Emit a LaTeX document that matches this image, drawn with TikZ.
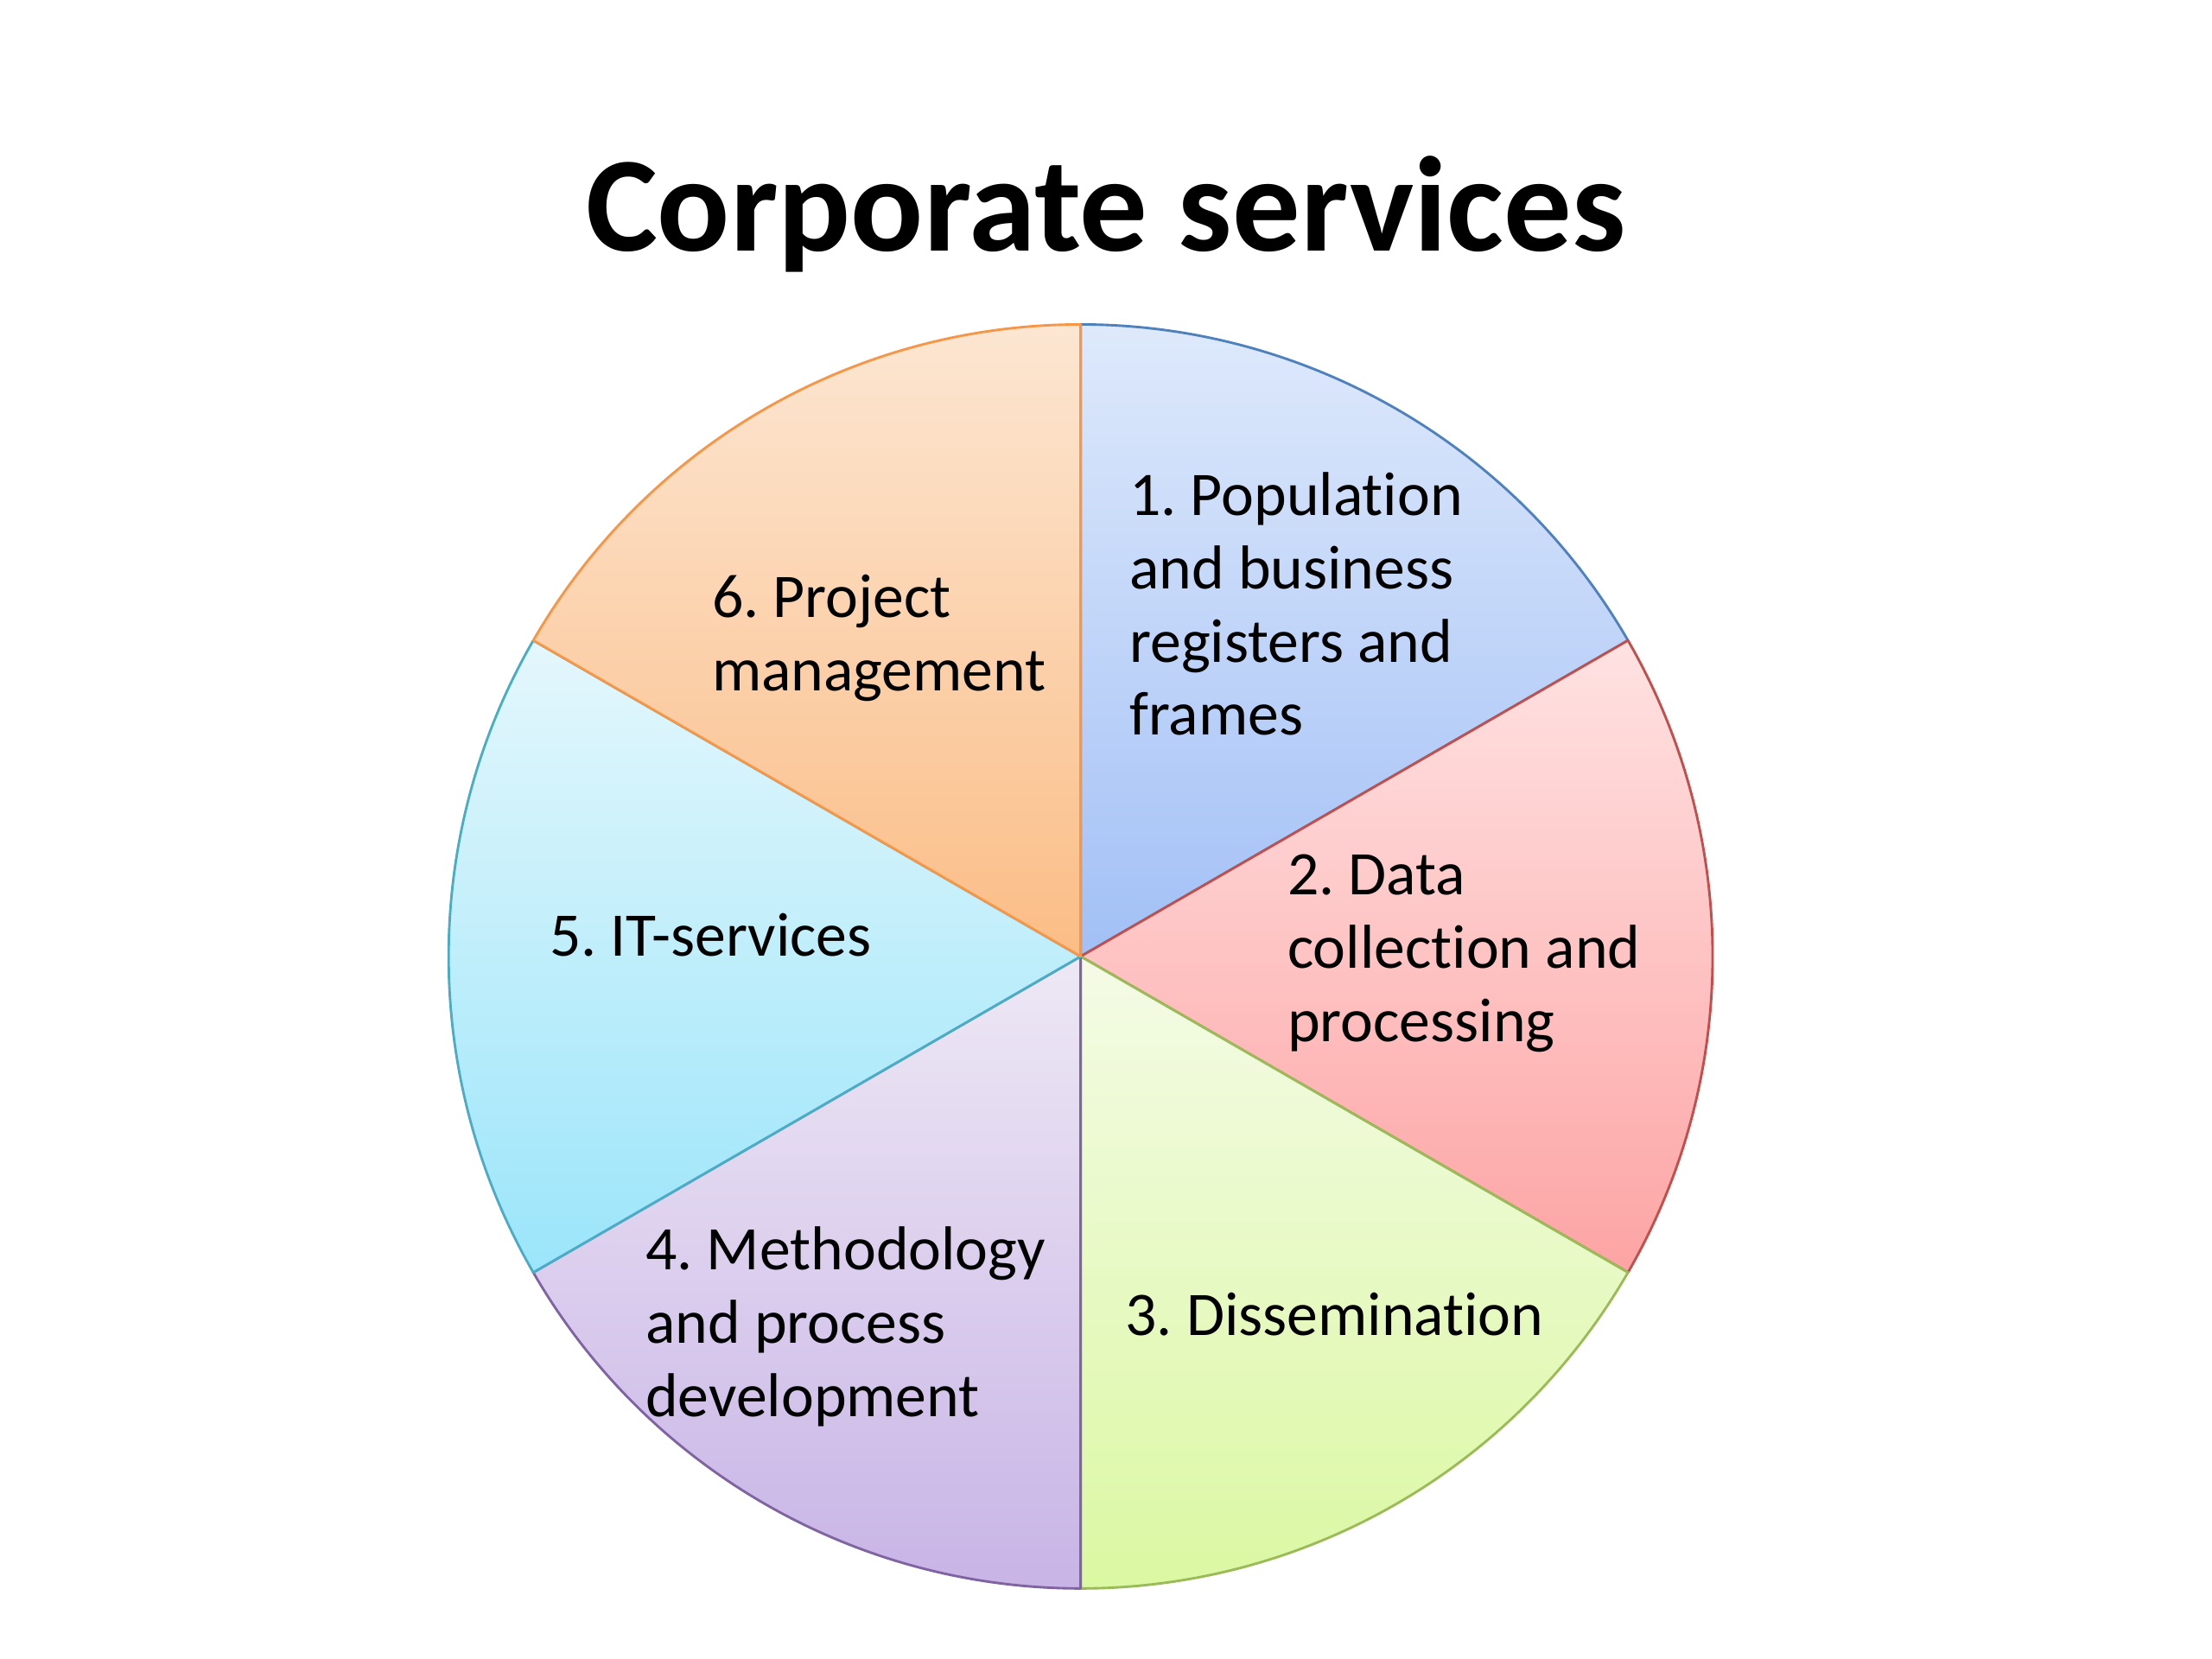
\documentclass[tikz,border=0pt]{standalone}
\usepackage{fontspec}
\setmainfont{Carlito}[Ligatures=NoCommon]
\frenchspacing
\usetikzlibrary{positioning}
\definecolor{csBlueTop}{HTML}{DEE9FB}
\definecolor{csBlueBot}{HTML}{A2C0F6}
\definecolor{csBlueLine}{HTML}{4F81BD}
\definecolor{csRedTop}{HTML}{FFE2E2}
\definecolor{csRedBot}{HTML}{FDA4A4}
\definecolor{csRedLine}{HTML}{C0504D}
\definecolor{csGreenTop}{HTML}{F4FBE6}
\definecolor{csGreenBot}{HTML}{DBF8A2}
\definecolor{csGreenLine}{HTML}{9BBB59}
\definecolor{csPurpleTop}{HTML}{EEE8F5}
\definecolor{csPurpleBot}{HTML}{C8B4E6}
\definecolor{csPurpleLine}{HTML}{8064A2}
\definecolor{csCyanTop}{HTML}{E4F7FC}
\definecolor{csCyanBot}{HTML}{9BE5FA}
\definecolor{csCyanLine}{HTML}{4BACC6}
\definecolor{csOrangeTop}{HTML}{FCE6D2}
\definecolor{csOrangeBot}{HTML}{FBBD86}
\definecolor{csOrangeLine}{HTML}{F79646}
\tikzset{
  sector/.style      = {line width=0.5pt, line join=round},
  secPop/.style      = {sector, top color=csBlueTop,   bottom color=csBlueBot,   draw=csBlueLine},
  secData/.style     = {sector, top color=csRedTop,    bottom color=csRedBot,    draw=csRedLine},
  secDiss/.style     = {sector, top color=csGreenTop,  bottom color=csGreenBot,  draw=csGreenLine},
  secMeth/.style     = {sector, top color=csPurpleTop, bottom color=csPurpleBot, draw=csPurpleLine},
  secIT/.style       = {sector, top color=csCyanTop,   bottom color=csCyanBot,   draw=csCyanLine},
  secProj/.style     = {sector, top color=csOrangeTop, bottom color=csOrangeBot, draw=csOrangeLine},
  titletxt/.style    = {font=\fontsize{27.3}{33}\selectfont\bfseries, inner sep=0pt},
  sectxt/.style      = {font=\fontsize{12.5}{14.8}\selectfont, align=left,
                        anchor=north west, inner sep=0pt},
}

\begin{document}
\begin{tikzpicture}
  \useasboundingbox (0,0) rectangle (15.68,11.76);
  \fill[white] (0,0) rectangle (15.68,11.76);

  \coordinate (c) at (7.66,4.98);
  \def\rad{4.48}

  % pie sectors, 60 degrees each
  \draw[secPop]  (c) -- ++(90:\rad)  arc (90:30:\rad)    -- cycle;
  \draw[secData] (c) -- ++(30:\rad)  arc (30:-30:\rad)   -- cycle;
  \draw[secDiss] (c) -- ++(-30:\rad) arc (-30:-90:\rad)  -- cycle;
  \draw[secMeth] (c) -- ++(-90:\rad) arc (-90:-150:\rad) -- cycle;
  \draw[secIT]   (c) -- ++(210:\rad) arc (210:150:\rad)  -- cycle;
  \draw[secProj] (c) -- ++(150:\rad) arc (150:90:\rad)   -- cycle;

  \node[titletxt, anchor=base] (title) at (7.84,9.98) {Corporate services};

  \node[sectxt] (pop)  at (8.00,8.42) {1. Population\\and business\\registers and\\frames};
  \node[sectxt] (data) at (9.12,5.71) {2. Data\\collection and\\processing};
  \node[sectxt] (diss) at (7.97,2.60) {3. Dissemination};
  \node[sectxt] (meth) at (4.57,3.07) {4. Methodology\\and process\\development};
  \node[sectxt] (it)   at (3.89,5.29) {5. IT-services};
  \node[sectxt] (proj) at (5.04,7.69) {6. Project\\management};
\end{tikzpicture}
\end{document}
